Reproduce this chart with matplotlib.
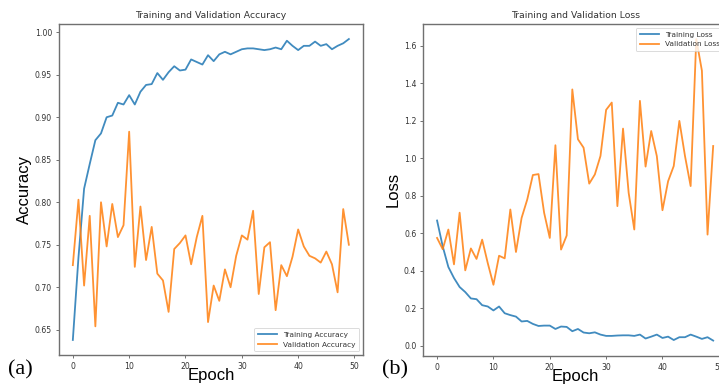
import numpy as np
import matplotlib
matplotlib.use("Agg")
import matplotlib.pyplot as plt

epochs = list(range(50))

train_acc = [0.638, 0.735, 0.816, 0.845, 0.873, 0.881, 0.900, 0.902, 0.917, 0.915,
             0.926, 0.915, 0.930, 0.938, 0.939, 0.952, 0.944, 0.953, 0.960, 0.955,
             0.956, 0.968, 0.965, 0.962, 0.973, 0.966, 0.974, 0.977, 0.974, 0.977,
             0.980, 0.981, 0.981, 0.980, 0.979, 0.980, 0.982, 0.980, 0.990, 0.984,
             0.979, 0.984, 0.984, 0.989, 0.984, 0.986, 0.980, 0.984, 0.987, 0.992]

val_acc = [0.726, 0.803, 0.702, 0.784, 0.654, 0.800, 0.748, 0.798, 0.759, 0.773,
           0.883, 0.724, 0.795, 0.732, 0.771, 0.716, 0.708, 0.671, 0.745, 0.752,
           0.761, 0.727, 0.759, 0.784, 0.659, 0.702, 0.684, 0.721, 0.700, 0.737,
           0.761, 0.756, 0.790, 0.692, 0.747, 0.753, 0.673, 0.726, 0.713, 0.736,
           0.768, 0.748, 0.737, 0.734, 0.729, 0.742, 0.727, 0.694, 0.792, 0.750]

train_loss = [0.668, 0.530, 0.420, 0.361, 0.313, 0.286, 0.252, 0.248, 0.216, 0.209,
              0.188, 0.209, 0.173, 0.163, 0.155, 0.129, 0.132, 0.116, 0.105, 0.107,
              0.107, 0.089, 0.102, 0.100, 0.077, 0.089, 0.070, 0.066, 0.071, 0.059,
              0.052, 0.052, 0.054, 0.055, 0.055, 0.052, 0.059, 0.038, 0.048, 0.059,
              0.041, 0.048, 0.030, 0.045, 0.045, 0.059, 0.048, 0.036, 0.045, 0.027]

val_loss = [0.575, 0.515, 0.620, 0.434, 0.710, 0.402, 0.519, 0.463, 0.566, 0.440,
            0.325, 0.480, 0.466, 0.727, 0.500, 0.682, 0.780, 0.911, 0.916, 0.709,
            0.575, 1.070, 0.513, 0.588, 1.368, 1.102, 1.057, 0.865, 0.914, 1.013,
            1.259, 1.298, 0.745, 1.159, 0.816, 0.620, 1.307, 0.956, 1.146, 1.012,
            0.723, 0.878, 0.959, 1.200, 1.012, 0.852, 1.637, 1.468, 0.593, 1.066]

acc_yticks = [0.65, 0.70, 0.75, 0.80, 0.85, 0.90, 0.95, 1.00]
loss_yticks = [0.0, 0.2, 0.4, 0.6, 0.8, 1.0, 1.2, 1.4, 1.6]
xticks = [0, 10, 20, 30, 40, 50]

BLUE = "#1f77b4"
ORANGE = "#ff7f0e"
SPINE = "#707070"
TXT = "#333333"

fig = plt.figure(figsize=(7.19, 3.87), dpi=100)

ax1 = fig.add_axes([0.0821, 0.0827, 0.4223, 0.8553])
ax2 = fig.add_axes([0.5887, 0.0810, 0.4224, 0.8570])

def style(ax):
    for s in ax.spines.values():
        s.set_color(SPINE)
        s.set_linewidth(1.0)
    ax.tick_params(labelsize=5.6, length=2.5, width=0.7, pad=2.5,
                   colors=SPINE, labelcolor=TXT)
    ax.set_xticks(xticks)
    ax.set_xticklabels([str(t) for t in xticks])

ax1.plot(epochs, train_acc, color=BLUE, lw=1.3, alpha=0.85, label="Training Accuracy")
ax1.plot(epochs, val_acc, color=ORANGE, lw=1.3, alpha=0.85, label="Validation Accuracy")
ax1.set_yticks(acc_yticks)
ax1.set_yticklabels([f"{v:.2f}" for v in acc_yticks])
style(ax1)
ax1.set_title("Training and Validation Accuracy", fontsize=6.7, color=TXT, pad=4)
ax1.set_ylabel("Accuracy", fontsize=12, family="Liberation Sans", labelpad=2)
ax1.set_xlabel("Epoch", fontsize=12, family="Liberation Sans")
ax1.xaxis.set_label_coords(0.5, -0.040)
leg1 = ax1.legend(loc="lower right", fontsize=5.3, handlelength=2.6,
                  borderpad=0.5, labelspacing=0.5, framealpha=0.8)
leg1.get_frame().set_linewidth(0.6)
for t in leg1.get_texts():
    t.set_color(TXT)

ax2.plot(epochs, train_loss, color=BLUE, lw=1.3, alpha=0.85, label="Training Loss")
ax2.plot(epochs, val_loss, color=ORANGE, lw=1.3, alpha=0.85, label="Validation Loss")
ax2.set_yticks(loss_yticks)
ax2.set_yticklabels([f"{v:.1f}" for v in loss_yticks])
style(ax2)
ax2.set_title("Training and Validation Loss", fontsize=6.7, color=TXT, pad=4)
ax2.set_ylabel("Loss", fontsize=12, family="Liberation Sans", labelpad=2)
ax2.set_xlabel("Epoch", fontsize=12, family="Liberation Sans")
ax2.xaxis.set_label_coords(0.5, -0.040)
leg2 = ax2.legend(loc="upper right", fontsize=5.3, handlelength=2.6,
                  borderpad=0.5, labelspacing=0.5, framealpha=0.8)
leg2.get_frame().set_linewidth(0.6)
for t in leg2.get_texts():
    t.set_color(TXT)

fig.text(0.011, 0.032, "(a)", fontsize=16, family="Liberation Serif", color="black")
fig.text(0.531, 0.032, "(b)", fontsize=16, family="Liberation Serif", color="black")

fig.savefig("out.png", dpi=100)
